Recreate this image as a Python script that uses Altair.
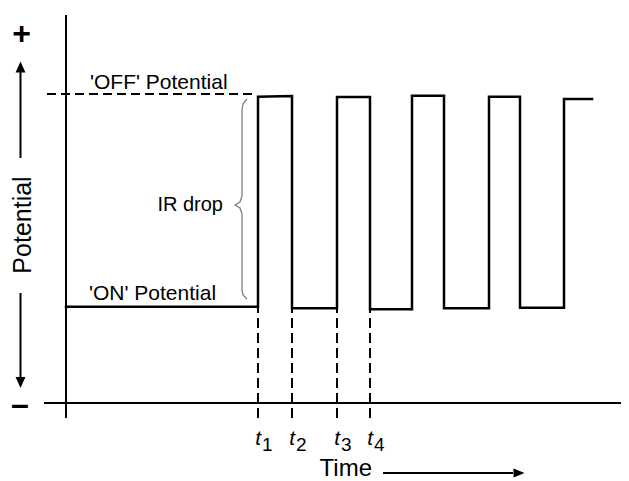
import altair as alt
import pandas as pd

# ---- data (time units, potential units) ----
wave_time = [0.0, 19.2, 19.2, 22.6, 22.6, 27.1, 27.1, 30.4, 30.4, 34.6,
             34.6, 37.8, 37.8, 42.3, 42.3, 45.4, 45.4, 49.8, 49.8, 52.6]
wave_potential = [9.63, 9.63, 30.62, 30.7, 9.47, 9.47, 30.6, 30.6, 9.37, 9.37,
                  30.73, 30.73, 9.47, 9.47, 30.63, 30.63, 9.53, 9.53, 30.4, 30.4]

off_level = 30.9
off_span = [-1.9, 18.7]

t_marks = [19.2, 22.6, 27.1, 30.4]
t_mark_top = [9.63, 9.47, 9.47, 9.37]
t_mark_bottom = -1.5
t_names = ["1", "2", "3", "4"]

axis_v_span = [-1.5, 38.8]   # vertical axis at time 0
axis_h_span = [-2.2, 55.5]   # horizontal axis at potential 0

brace_time = [18.1, 17.7, 17.6, 17.6, 17.4, 16.9, 17.4, 17.6, 17.6, 17.7, 18.1]
brace_potential = [30.4, 29.9, 29.3, 20.7, 20.1, 19.8, 19.5, 18.9, 11.3, 10.8, 10.4]

label_text = ["'OFF' Potential", "'ON' Potential"]
label_time = [2.4, 2.3]
label_potential = [31.4, 10.3]

ir_text = ["IR drop"]
ir_time = [15.7]
ir_potential = [19.2]

pot_arrow_time = -4.55
pot_up_line = [24.5, 33.1]
pot_up_head = 33.6
pot_down_line = [2.5, 11.0]
pot_down_head = 2.05

time_arrow_line = [31.7, 44.7]
time_arrow_head = 45.3
time_label_end = 30.6
time_row = -7.0

XD = [-5.8, 55.5]
YD = [-7.8, 39.5]

xs = alt.Scale(domain=XD, nice=False, zero=False)
ys = alt.Scale(domain=YD, nice=False, zero=False)

def X(f="t"):
    return alt.X(f"{f}:Q", scale=xs, axis=None)

def Y(f="v"):
    return alt.Y(f"{f}:Q", scale=ys, axis=None)

FONT = "Liberation Sans"

wave_df = pd.DataFrame({"t": wave_time, "v": wave_potential, "i": range(len(wave_time))})
wave = alt.Chart(wave_df).mark_line(color="black", strokeWidth=2.5, strokeJoin="miter",
                                     strokeCap="square").encode(
    x=X(), y=Y(), order=alt.Order("i:Q"))

axes_df = pd.DataFrame({
    "t": [0.0, axis_h_span[0]], "t2": [0.0, axis_h_span[1]],
    "v": [axis_v_span[0], 0.0], "v2": [axis_v_span[1], 0.0]})
axes = alt.Chart(axes_df).mark_rule(color="black", strokeWidth=2).encode(
    x=X(), x2="t2:Q", y=Y(), y2="v2:Q")

off_df = pd.DataFrame({"t": [off_span[0]], "t2": [off_span[1]], "v": [off_level]})
off_line = alt.Chart(off_df).mark_rule(color="black", strokeWidth=2, strokeDash=[9, 5]).encode(
    x=X(), x2="t2:Q", y=Y())

tm_df = pd.DataFrame({"t": t_marks, "v": [t_mark_bottom] * 4, "v2": t_mark_top, "n": t_names})
t_lines = alt.Chart(tm_df).mark_rule(color="black", strokeWidth=2, strokeDash=[10, 5]).encode(
    x=X(), y=Y(), y2="v2:Q")

t_lab = alt.Chart(tm_df).mark_text(text="t", font=FONT, fontSize=21, fontStyle="italic",
                                   align="right", baseline="alphabetic", dx=3, dy=27,
                                   color="black").encode(x=X(), y=Y())
t_sub = alt.Chart(tm_df).mark_text(font=FONT, fontSize=19, align="left",
                                   baseline="alphabetic", dx=4, dy=33,
                                   color="black").encode(x=X(), y=Y(), text="n:N")

brace_df = pd.DataFrame({"t": brace_time, "v": brace_potential, "i": range(len(brace_time))})
brace = alt.Chart(brace_df).mark_line(color="#808080", strokeWidth=1.3).encode(
    x=X(), y=Y(), order=alt.Order("i:Q"))

lab_df = pd.DataFrame({"t": label_time, "v": label_potential, "s": label_text})
labels = alt.Chart(lab_df).mark_text(font=FONT, fontSize=21, align="left", baseline="alphabetic",
                                     color="black").encode(x=X(), y=Y(), text="s:N")

ir_df = pd.DataFrame({"t": ir_time, "v": ir_potential, "s": ir_text})
ir = alt.Chart(ir_df).mark_text(font=FONT, fontSize=20, align="right", baseline="alphabetic",
                                color="black").encode(x=X(), y=Y(), text="s:N")

pot_df = pd.DataFrame({"t": [-4.3], "v": [17.8], "s": ["Potential"]})
pot = alt.Chart(pot_df).mark_text(font=FONT, fontSize=25, angle=270, align="center",
                                  baseline="middle", color="black").encode(x=X(), y=Y(), text="s:N")

sign_df = pd.DataFrame({"t": [-4.45, -4.6], "v": [36.9, -0.2], "s": ["+", "–"]})
signs = alt.Chart(sign_df).mark_text(font=FONT, fontSize=32, fontWeight="bold", align="center",
                                     baseline="middle", color="black").encode(x=X(), y=Y(), text="s:N")

arrow_lines_df = pd.DataFrame({
    "t": [pot_arrow_time, pot_arrow_time, time_arrow_line[0]],
    "t2": [pot_arrow_time, pot_arrow_time, time_arrow_line[1]],
    "v": [pot_up_line[0], pot_down_line[0], time_row],
    "v2": [pot_up_line[1], pot_down_line[1], time_row]})
arrow_lines = alt.Chart(arrow_lines_df).mark_rule(color="black", strokeWidth=2).encode(
    x=X(), x2="t2:Q", y=Y(), y2="v2:Q")

head_df = pd.DataFrame({
    "t": [pot_arrow_time, pot_arrow_time, time_arrow_head],
    "v": [pot_up_head, pot_down_head, time_row],
    "k": ["up", "down", "right"]})
heads = alt.Chart(head_df).mark_point(filled=True, color="black", opacity=1, size=121).encode(
    x=X(), y=Y(),
    shape=alt.Shape("k:N", scale=alt.Scale(
        domain=["up", "down", "right"],
        range=["M0,-1L0.9,1L-0.9,1Z", "M0,1L0.9,-1L-0.9,-1Z", "M1,0L-1,0.8L-1,-0.8Z"]),
        legend=None))

time_df = pd.DataFrame({"t": [time_label_end], "v": [time_row], "s": ["Time"]})
time_lab = alt.Chart(time_df).mark_text(font=FONT, fontSize=24, align="right", baseline="middle",
                                        dy=-4, color="black").encode(x=X(), y=Y(), text="s:N")

chart = alt.layer(axes, off_line, t_lines, wave, brace, labels, ir, pot, signs,
                  arrow_lines, heads, t_lab, t_sub, time_lab).properties(
    width=613, height=473,
    autosize=alt.AutoSizeParams(type="none"),
    padding=0,
).configure_view(stroke=None)

chart.save("out.html", embed_options={"renderer": "svg", "actions": False})
